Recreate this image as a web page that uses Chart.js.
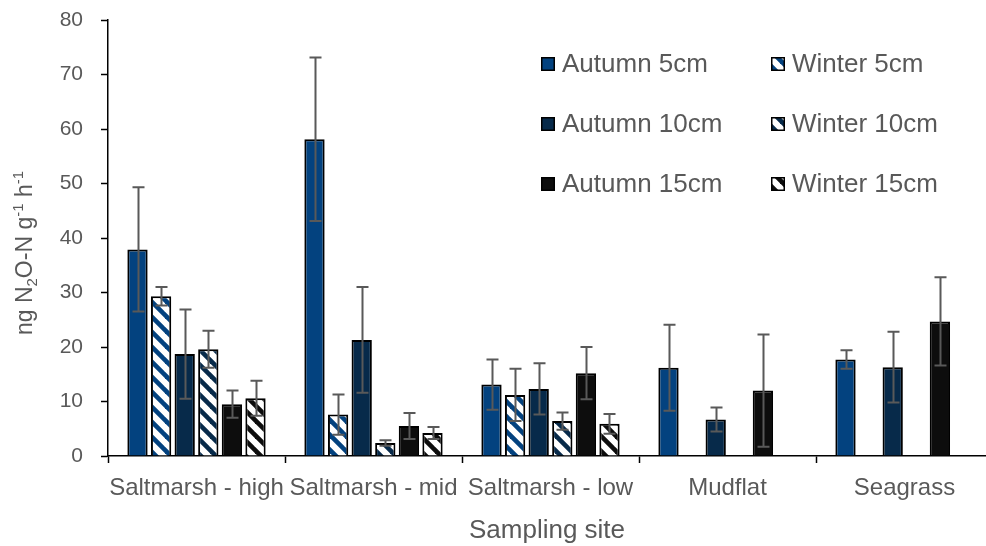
<!DOCTYPE html>
<html>
<head>
<meta charset="utf-8">
<script src="https://cdn.jsdelivr.net/npm/chart.js@4.4.1/dist/chart.umd.min.js"></script>
<style>
  html, body { margin: 0; padding: 0; overflow: hidden; background: #fff; }
  #wrap { position: absolute; left: 0; top: 0; width: 993px; height: 546px; }
</style>
</head>
<body>
<div id="wrap"><canvas id="c" width="993" height="546"></canvas></div>
<script>
// Sampling sites (x categories)
const sites = ['Saltmarsh - high', 'Saltmarsh - mid', 'Saltmarsh - low', 'Mudflat', 'Seagrass'];

// Mean N2O-N production per depth and season, with standard errors
const autumn5 = [37.9, 58.1, 13.1, 16.2, 17.7];
const autumn5Err = [11.4, 15.0, 4.6, 7.9, 1.7];
const winter5 = [29.3, 7.6, 11.2, null, null];
const winter5Err = [1.7, 3.7, 4.8, null, null];
const autumn10 = [18.7, 21.3, 12.3, 6.7, 16.3];
const autumn10Err = [8.2, 9.7, 4.7, 2.2, 6.5];
const winter10 = [19.6, 2.4, 6.4, null, null];
const winter10Err = [3.4, 0.5, 1.6, null, null];
const autumn15 = [9.5, 5.5, 15.2, 12.0, 24.7];
const autumn15Err = [2.5, 2.4, 4.8, 10.3, 8.1];
const winter15 = [10.6, 4.2, 5.9, null, null];
const winter15Err = [3.2, 1.1, 1.8, null, null];

// Y axis tick values
const yTicks = [0, 10, 20, 30, 40, 50, 60, 70, 80];

const FONT = "'Liberation Sans', Arial, sans-serif";
const TEXT = '#595959';
const BLUE = '#03427f';
const NAVY = '#072a4a';
const BLACK = '#0d0d0d';

// White tile with thick downward diagonal stripes
function stripes(color) {
  const s = 15;
  const t = document.createElement('canvas');
  t.width = s; t.height = s;
  const g = t.getContext('2d');
  g.fillStyle = '#fff';
  g.fillRect(0, 0, s, s);
  g.strokeStyle = color;
  g.lineWidth = 4.6;
  for (const x0 of [-s, 0, s]) {
    g.beginPath();
    g.moveTo(x0 - 3, -3);
    g.lineTo(x0 + s + 3, s + 3);
    g.stroke();
  }
  return g.createPattern(t, 'repeat');
}

function ds(label, data, errors, fill) {
  return {
    label, data, errors,
    backgroundColor: fill,
    borderColor: '#000',
    borderWidth: 2,
    borderSkipped: 'start',
    categoryPercentage: 0.8,
    barPercentage: 0.86
  };
}

const datasets = [
  ds('Autumn 5cm', autumn5, autumn5Err, BLUE),
  ds('Winter 5cm', winter5, winter5Err, stripes(BLUE)),
  ds('Autumn 10cm', autumn10, autumn10Err, NAVY),
  ds('Winter 10cm', winter10, winter10Err, stripes(NAVY)),
  ds('Autumn 15cm', autumn15, autumn15Err, BLACK),
  ds('Winter 15cm', winter15, winter15Err, stripes(BLACK))
];

// Error bars: vertical whisker with caps at mean ± SE
const errorBars = {
  id: 'errorBars',
  afterDatasetsDraw(chart) {
    const ctx = chart.ctx;
    const y = chart.scales.y;
    ctx.save();
    ctx.strokeStyle = '#595959';
    ctx.lineWidth = 2;
    chart.data.datasets.forEach((d, i) => {
      const meta = chart.getDatasetMeta(i);
      meta.data.forEach((bar, j) => {
        const v = d.data[j], e = d.errors[j];
        if (v == null || e == null) return;
        const x = Math.round(bar.x) + 0.5;
        const top = y.getPixelForValue(v + e);
        const bot = y.getPixelForValue(v - e);
        ctx.beginPath();
        ctx.moveTo(x, top); ctx.lineTo(x, bot);
        ctx.moveTo(x - 6, top); ctx.lineTo(x + 6, top);
        ctx.moveTo(x - 6, bot); ctx.lineTo(x + 6, bot);
        ctx.stroke();
      });
    });
    ctx.restore();
  }
};

// Two-column legend inside the plot, plus axis titles
const decorations = {
  id: 'decorations',
  afterDraw(chart) {
    const ctx = chart.ctx;
    ctx.save();
    const cols = [541, 771];
    const rows = [57, 117, 177];
    ctx.font = '26px ' + FONT;
    ctx.textBaseline = 'middle';
    ctx.textAlign = 'left';
    chart.data.datasets.forEach((d, i) => {
      const bx = cols[i % 2], by = rows[Math.floor(i / 2)];
      ctx.fillStyle = d.backgroundColor;
      ctx.fillRect(bx, by, 14, 14);
      ctx.strokeStyle = '#000';
      ctx.lineWidth = 1.5;
      ctx.strokeRect(bx + 0.75, by + 0.75, 12.5, 12.5);
      ctx.fillStyle = TEXT;
      ctx.fillText(d.label, bx + 21, by + 8);
    });

    // x axis title
    ctx.font = '26px ' + FONT;
    ctx.textAlign = 'center';
    ctx.textBaseline = 'alphabetic';
    ctx.fillText('Sampling site', 547, 538);

    // y axis title with sub/superscripts, rotated
    const size = 23, small = 15;
    const parts = [
      ['ng N', size, 0], ['2', small, 5], ['O-N g', size, 0],
      ['-1', small, -9], [' h', size, 0], ['-1', small, -9]
    ];
    let total = 0;
    parts.forEach(p => { ctx.font = p[1] + 'px ' + FONT; total += ctx.measureText(p[0]).width; });
    ctx.translate(32, 253);
    ctx.rotate(-Math.PI / 2);
    ctx.textAlign = 'left';
    let x = -total / 2;
    parts.forEach(p => {
      ctx.font = p[1] + 'px ' + FONT;
      ctx.fillText(p[0], x, p[2]);
      x += ctx.measureText(p[0]).width;
    });
    ctx.restore();
  }
};

new Chart(document.getElementById('c'), {
  type: 'bar',
  data: { labels: sites, datasets },
  options: {
    responsive: false,
    devicePixelRatio: 1,
    animation: false,
    layout: { padding: { top: 20, left: 0, right: 0, bottom: 0 } },
    plugins: { legend: { display: false }, tooltip: { enabled: false } },
    scales: {
      x: {
        offset: true,
        grid: { offset: true, drawOnChartArea: false, drawTicks: true, tickLength: 7, tickColor: '#000', tickWidth: 1.5 },
        border: { color: '#000', width: 1.5 },
        ticks: { color: TEXT, font: { family: FONT, size: 24 }, autoSkip: false, maxRotation: 0, padding: 11 },
        afterFit(s) { s.height = 90; s.paddingLeft = 0; s.paddingRight = 0; }
      },
      y: {
        min: 0, max: 80,
        afterBuildTicks(s) { s.ticks = yTicks.map(v => ({ value: v })); },
        grid: { drawOnChartArea: false, drawTicks: true, tickLength: 7, tickColor: '#000', tickWidth: 1.5 },
        border: { color: '#000', width: 1.5 },
        ticks: { color: TEXT, font: { family: FONT, size: 21 }, padding: 18 },
        afterFit(s) { s.width = 108; s.paddingTop = 0; s.paddingBottom = 0; }
      }
    }
  },
  plugins: [errorBars, decorations]
});
</script>
</body>
</html>
